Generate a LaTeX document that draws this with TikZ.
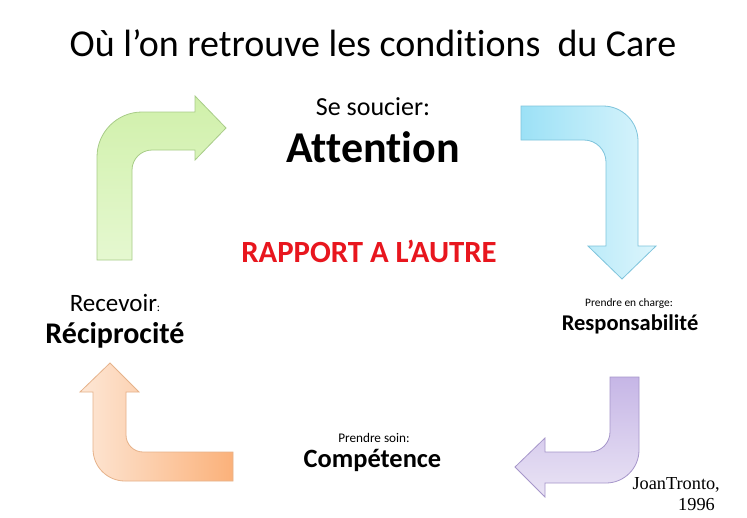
\documentclass[tikz,border=0pt]{standalone}
\usepackage{fontspec}
\setmainfont[Ligatures=NoCommon]{Carlito}
\newfontfamily\timesfont{Liberation Serif}
\definecolor{grnA}{HTML}{D0F0AA}
\definecolor{grnB}{HTML}{E5F8D0}
\definecolor{grnL}{HTML}{A8CC88}
\definecolor{bluA}{HTML}{9CE1F6}
\definecolor{bluB}{HTML}{DCF5FC}
\definecolor{bluL}{HTML}{7EC4DC}
\definecolor{purA}{HTML}{C6B6E6}
\definecolor{purB}{HTML}{EAE4F5}
\definecolor{purL}{HTML}{A696CA}
\definecolor{orgA}{HTML}{FBB17A}
\definecolor{orgB}{HTML}{FDE7D6}
\definecolor{orgL}{HTML}{E6B28A}
\definecolor{rapred}{HTML}{E8161E}
\tikzset{
  bentarrow/.style={line width=0.8pt, line join=miter},
  lbl/.style={anchor=base, inner sep=0pt, align=center},
}
\begin{document}
\begin{tikzpicture}[x=1pt,y=-1pt]
\useasboundingbox (0,0) rectangle (747,517);
\fill[white] (0,0) rectangle (747,517);
% green arrow (up-left, pointing right)
\draw[bentarrow, draw=grnL, top color=grnA, bottom color=grnB]
  (97,260) -- (97,157) .. controls (97,132.2) and (117.2,112) .. (142,112)
  -- (195,112) -- (195,96) -- (226,128) -- (195,160) -- (195,150) -- (152,150)
  .. controls (141,150) and (132,159) .. (132,170) -- (132,260) -- cycle;
% blue arrow (top-right, pointing down)
\draw[bentarrow, draw=bluL, left color=bluA, right color=bluB]
  (521,106) -- (603,106) .. controls (622.3,106) and (638,121.7) .. (638,141)
  -- (638,246) -- (656,246) -- (622,279) -- (588,246) -- (606,246) -- (606,162)
  .. controls (606,149.9) and (596.1,140) .. (584,140) -- (521,140) -- cycle;
% purple arrow (bottom-right, pointing left)
\draw[bentarrow, draw=purL, top color=purA, bottom color=purB]
  (610,377) -- (639,377) -- (639,450) .. controls (639,468.2) and (624.2,483) .. (606,483)
  -- (545,483) -- (545,497) -- (515,467) -- (545,438) -- (545,452) -- (590,452)
  .. controls (601,452) and (610,443) .. (610,432) -- cycle;
% orange arrow (bottom-left, pointing up)
\draw[bentarrow, draw=orgL, right color=orgA, left color=orgB]
  (233,452) -- (143,452) .. controls (133.6,452) and (126,444.4) .. (126,435)
  -- (126,392) -- (139,392) -- (110,363) -- (80,392) -- (93,392) -- (93,449)
  .. controls (93,466.7) and (107.3,481) .. (125,481) -- (233,481) -- cycle;
% texts
\node[lbl, font=\fontsize{38}{40}\selectfont] (title) at (373,56) {Où l’on retrouve les conditions\ \ du Care};
\node[lbl, font=\fontsize{26}{28}\selectfont] (soucier) at (373,115) {Se soucier:};
\node[lbl, font=\fontsize{44}{46}\selectfont\bfseries] (attention) at (373,162) {Attention};
\node[lbl, font=\fontsize{30.8}{32}\selectfont\bfseries, text=rapred] (rapport) at (369,262) {RAPPORT A L’AUTRE};
\node[lbl, font=\fontsize{25}{27}\selectfont] (recevoir) at (115,311) {Recevoir{\fontsize{12}{14}\selectfont:}};
\node[lbl, font=\fontsize{30}{32}\selectfont\bfseries] (recip) at (115,343) {Réciprocité};
\node[lbl, font=\fontsize{11.4}{13}\selectfont] (charge) at (629,306) {Prendre en charge:};
\node[lbl, font=\fontsize{22.5}{24}\selectfont\bfseries] (resp) at (630,330) {Responsabilité};
\node[lbl, font=\fontsize{13.2}{15}\selectfont] (soin) at (374,442) {Prendre soin:};
\node[lbl, font=\fontsize{26.4}{28}\selectfont\bfseries] (comp) at (372.5,467) {Compétence};
\node[anchor=base east, inner sep=0pt, align=right, font=\timesfont\fontsize{18.3}{21}\selectfont] (tronto) at (720,510) {JoanTronto,\\1996\hspace*{5pt}};
\end{tikzpicture}
\end{document}
